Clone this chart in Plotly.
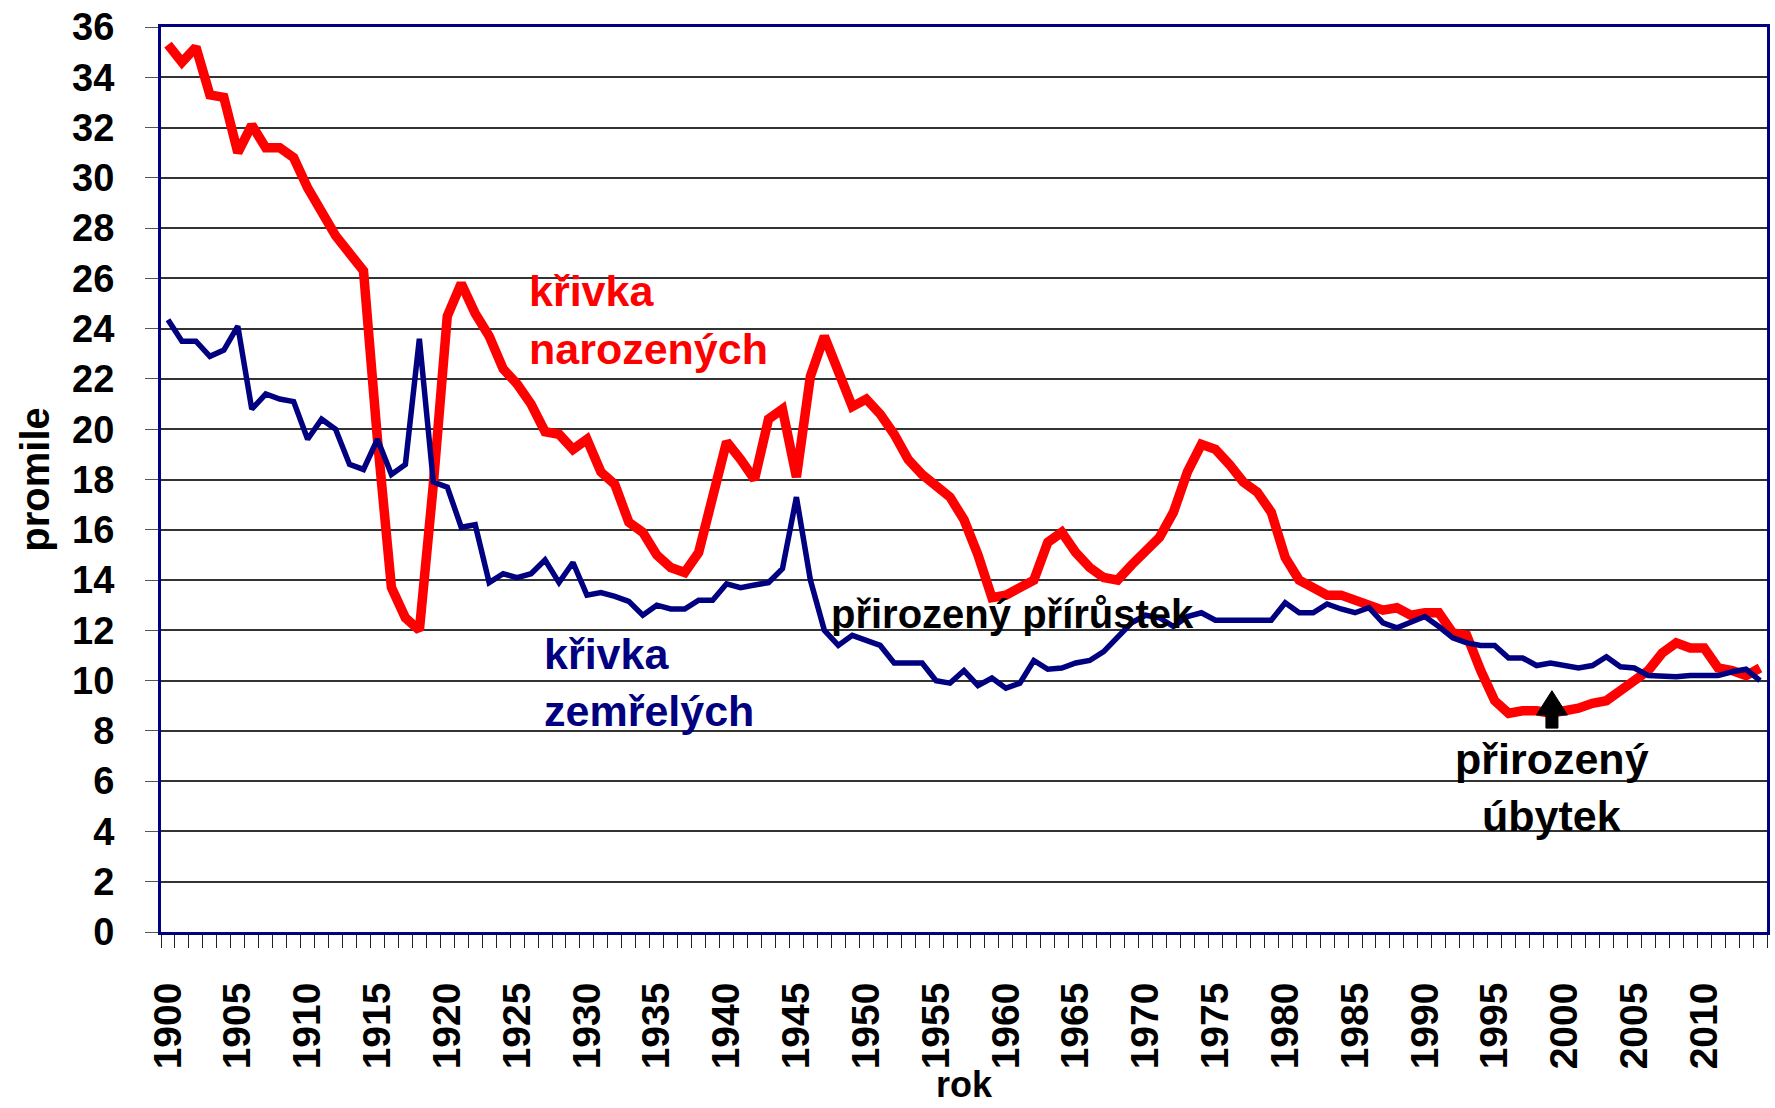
import plotly.graph_objects as go

years = list(range(1900, 2015))

births = [35.3, 34.6, 35.2, 33.3, 33.2, 31.0, 32.1, 31.2, 31.2, 30.8,
          29.6, 28.7, 27.7, 27.0, 26.3, 19.6, 13.7, 12.5, 12.0, 17.8,
          24.5, 25.8, 24.6, 23.7, 22.4, 21.8, 21.0, 19.9, 19.8, 19.2,
          19.6, 18.3, 17.8, 16.3, 15.9, 15.0, 14.5, 14.3, 15.1, 17.3,
          19.5, 18.8, 18.0, 20.4, 20.8, 18.1, 22.1, 23.7, 22.3, 20.9,
          21.2, 20.6, 19.8, 18.8, 18.2, 17.7, 17.3, 16.4, 15.0, 13.3,
          13.4, 13.7, 14.0, 15.5, 15.9, 15.1, 14.5, 14.1, 14.0, 14.6,
          15.1, 15.7, 16.7, 18.3, 19.4, 19.2, 18.6, 17.9, 17.5, 16.7,
          14.9, 14.0, 13.7, 13.4, 13.4, 13.2, 13.0, 12.8, 12.9, 12.6,
          12.7, 12.7, 11.9, 11.8, 10.4, 9.2, 8.7, 8.8, 8.8, 8.7,
          8.8, 8.9, 9.1, 9.2, 9.6, 10.0, 10.4, 11.1, 11.5, 11.3,
          11.3, 10.5, 10.4, 10.2, 10.5]

deaths = [24.35, 23.5, 23.5, 22.9, 23.15, 24.1, 20.8, 21.4, 21.2, 21.1,
          19.6, 20.4, 20.0, 18.6, 18.4, 19.6, 18.2, 18.6, 23.6, 17.9,
          17.7, 16.1, 16.2, 13.9, 14.25, 14.1, 14.25, 14.8, 13.9, 14.7,
          13.4, 13.5, 13.35, 13.15, 12.6, 13.0, 12.85, 12.85, 13.2, 13.2,
          13.85, 13.7, 13.8, 13.9, 14.45, 17.3, 14.0, 12.0, 11.4, 11.8,
          11.6, 11.4, 10.7, 10.7, 10.7, 10.0, 9.9, 10.4, 9.8, 10.1,
          9.7, 9.9, 10.8, 10.45, 10.5, 10.7, 10.8, 11.15, 11.75, 12.3,
          12.6, 12.5, 12.15, 12.55, 12.7, 12.4, 12.4, 12.4, 12.4, 12.4,
          13.1, 12.7, 12.7, 13.05, 12.85, 12.7, 12.9, 12.3, 12.1, 12.35,
          12.55, 12.15, 11.7, 11.5, 11.4, 11.4, 10.9, 10.9, 10.6, 10.7,
          10.6, 10.5, 10.6, 10.95, 10.55, 10.5, 10.2, 10.15, 10.15, 10.2,
          10.2, 10.2, 10.35, 10.45, 10.0]

label_years = list(range(1900, 2011, 5))
y_ticks = list(range(0, 37, 2))

RED = "#FF0000"
NAVY = "#000080"
FONT = "Liberation Sans"

fig = go.Figure()
fig.add_trace(go.Scatter(x=years, y=births, mode="lines",
                         line=dict(color=RED, width=9.5), name="narození"))
fig.add_trace(go.Scatter(x=years, y=deaths, mode="lines",
                         line=dict(color=NAVY, width=5.5), name="zemřelí"))

def label(text, x, y, color, size=43, xanchor="left"):
    fig.add_annotation(text=text, x=x, y=y, xref="x", yref="y",
                       showarrow=False, xanchor=xanchor, yanchor="middle",
                       font=dict(family=FONT, size=size, color=color, weight="bold"))

label("křivka", 1925.7, 25.5, RED)
label("narozených", 1925.7, 23.2, RED)
label("křivka", 1926.8, 11.06, NAVY)
label("zemřelých", 1926.8, 8.79, NAVY)
label("přirozený přírůstek", 1947.3, 12.65, "black", size=40)
label("přirozený", 1999.1, 6.88, "black", xanchor="center")
label("úbytek", 1999.1, 4.61, "black", xanchor="center")

# block arrow
ax = 1999.1
tip, head_base, bottom = 9.6, 8.63, 8.11
hw, sw = 1.11, 0.43
path = (f"M {ax} {tip} L {ax + hw} {head_base} L {ax + sw} {head_base} "
        f"L {ax + sw} {bottom} L {ax - sw} {bottom} L {ax - sw} {head_base} "
        f"L {ax - hw} {head_base} Z")
fig.add_shape(type="path", path=path, xref="x", yref="y",
              fillcolor="black", line=dict(color="black", width=1))

# axis titles
fig.add_annotation(text="promile", xref="paper", yref="paper", x=-0.079, y=0.5,
                   showarrow=False, textangle=-90, xanchor="center", yanchor="middle",
                   font=dict(family=FONT, size=40, color="black", weight="bold"))
fig.add_annotation(text="rok", xref="paper", yref="paper", x=0.5006, y=-0.168,
                   showarrow=False, xanchor="center", yanchor="middle",
                   font=dict(family=FONT, size=36, color="black", weight="bold"))

fig.update_layout(
    width=1775, height=1108,
    margin=dict(l=161, r=8, t=27, b=176, autoexpand=False),
    paper_bgcolor="white", plot_bgcolor="white",
    showlegend=False,
)
fig.update_xaxes(
    range=[1899.5, 2014.5], tickmode="array", tickvals=label_years,
    ticktext=[str(v) for v in label_years], tickangle=-90,
    tickfont=dict(family=FONT, size=39, color="black", weight="bold"),
    ticks="", ticklabelstandoff=32, showgrid=False, zeroline=False, automargin=False,
    showline=True, linecolor=NAVY, linewidth=3, mirror=True,
    minor=dict(ticks="outside", tick0=1899.5, dtick=1, ticklen=13,
               tickcolor="#222", tickwidth=1, showgrid=False),
)
fig.update_yaxes(
    range=[0, 36], tickmode="array", tickvals=y_ticks,
    tickfont=dict(family=FONT, size=38, color="black", weight="bold"),
    ticks="outside", ticklen=13, tickcolor="#555", ticklabelstandoff=23,
    showgrid=True, gridcolor="#333", gridwidth=1.5, zeroline=False, automargin=False,
    showline=True, linecolor=NAVY, linewidth=3, mirror=True,
)

fig.write_html("out.html", config={"displayModeBar": False},
               post_script="document.body.style.margin='0';document.body.style.overflow='hidden';")
